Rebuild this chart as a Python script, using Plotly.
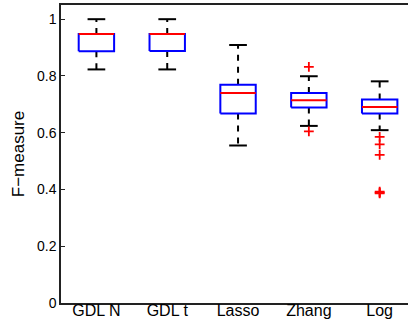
import plotly.graph_objects as go

categories = ["GDL N", "GDL t", "Lasso", "Zhang", "Log"]
upper = [1.0, 1.0, 0.909, 0.799, 0.781]
q3 = [0.948, 0.948, 0.769, 0.740, 0.717]
median = [0.948, 0.948, 0.740, 0.714, 0.691]
q1 = [0.887, 0.888, 0.668, 0.689, 0.668]
lower = [0.823, 0.823, 0.555, 0.624, 0.609]
outlier_cat = [4, 4, 5, 5, 5, 5, 5, 5]
outlier_val = [0.832, 0.605, 0.585, 0.559, 0.522, 0.392, 0.389, 0.386]
ytick_vals = [0, 0.2, 0.4, 0.6, 0.8, 1]
ytick_text = ["0", "0.2", "0.4", "0.6", "0.8", "1"]

BW = 0.25   # half box width
CW = 0.125  # half cap width

wx, wy, cx, cy, bx, by, mx, my = [], [], [], [], [], [], [], []
for i in range(len(categories)):
    x = i + 1
    wx += [x, x, None, x, x, None]
    wy += [q3[i], upper[i], None, q1[i], lower[i], None]
    cx += [x - CW, x + CW, None, x - CW, x + CW, None]
    cy += [upper[i], upper[i], None, lower[i], lower[i], None]
    bx += [x - BW, x + BW, x + BW, x - BW, x - BW, None]
    by += [q1[i], q1[i], q3[i], q3[i], q1[i], None]
    mx += [x - BW, x + BW, None]
    my += [median[i], median[i], None]

fig = go.Figure()
fig.add_trace(go.Scatter(x=wx, y=wy, mode="lines",
                         line=dict(color="black", width=2, dash="6px,6px"), hoverinfo="skip"))
fig.add_trace(go.Scatter(x=cx, y=cy, mode="lines",
                         line=dict(color="black", width=2), hoverinfo="skip"))
fig.add_trace(go.Scatter(x=bx, y=by, mode="lines",
                         line=dict(color="#0000ff", width=2), hoverinfo="skip"))
fig.add_trace(go.Scatter(x=mx, y=my, mode="lines",
                         line=dict(color="#ff0000", width=2), hoverinfo="skip"))
fig.add_trace(go.Scatter(x=outlier_cat, y=outlier_val, mode="markers",
                         marker=dict(symbol="cross-thin", size=7, color="#ff0000",
                                     line=dict(color="#ff0000", width=1.8)),
                         hoverinfo="skip"))

fig.update_layout(
    width=408, height=324,
    margin=dict(l=61, r=0, t=5, b=21),
    paper_bgcolor="white", plot_bgcolor="white",
    showlegend=False,
    font=dict(family="Liberation Sans, Arial, sans-serif", color="black", size=14),
    xaxis=dict(range=[0.5, 5.4], tickvals=[1, 2, 3, 4, 5], ticktext=categories,
               ticks="", showline=True, mirror=True, linecolor="#222", linewidth=1.5,
               showgrid=False, zeroline=False, tickfont=dict(size=16), automargin=False,
               ticklabelstandoff=-8),
    yaxis=dict(range=[0, 1.05], tickvals=ytick_vals, ticktext=ytick_text,
               ticks="inside", ticklen=4, tickcolor="#222", showline=True,
               linecolor="#222", linewidth=1.5, showgrid=False, zeroline=False,
               tickfont=dict(size=14), automargin=False,
               title=dict(text="F\u2212measure", font=dict(size=17), standoff=8)),
)
fig.write_html("out.html")
